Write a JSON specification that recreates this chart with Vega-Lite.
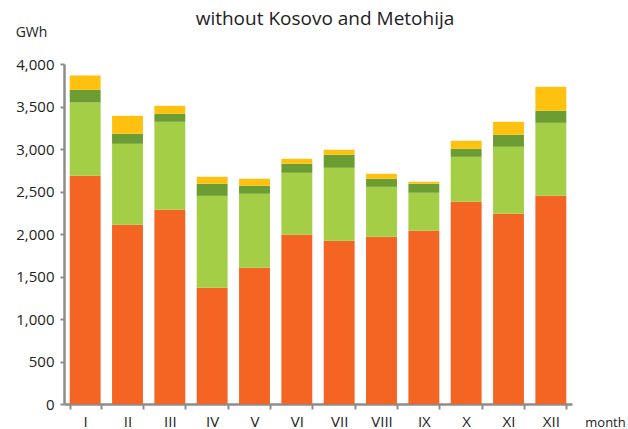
{
  "$schema": "https://vega.github.io/schema/vega-lite/v6.json",
  "autosize": {"type": "none"},
  "width": 508,
  "height": 340,
  "padding": {"left": 64, "top": 64, "right": 56, "bottom": 25},
  "background": "white",
  "title": {"text": "without Kosovo and Metohija", "font": "Open Sans", "fontSize": 19, "fontWeight": "normal", "color": "#222222", "anchor": "middle", "frame": "group", "dx": 7, "dy": 4, "offset": 0},
  "config": {"view": {"stroke": null}, "font": "Open Sans"},
  "data": {"values": [
    {"month": "I", "series": "s1", "k": 1, "value": 2685},
    {"month": "I", "series": "s2", "k": 2, "value": 862},
    {"month": "I", "series": "s3", "k": 3, "value": 149},
    {"month": "I", "series": "s4", "k": 4, "value": 169},
    {"month": "II", "series": "s1", "k": 1, "value": 2108},
    {"month": "II", "series": "s2", "k": 2, "value": 953},
    {"month": "II", "series": "s3", "k": 3, "value": 118},
    {"month": "II", "series": "s4", "k": 4, "value": 212},
    {"month": "III", "series": "s1", "k": 1, "value": 2285},
    {"month": "III", "series": "s2", "k": 2, "value": 1035},
    {"month": "III", "series": "s3", "k": 3, "value": 94},
    {"month": "III", "series": "s4", "k": 4, "value": 94},
    {"month": "IV", "series": "s1", "k": 1, "value": 1367},
    {"month": "IV", "series": "s2", "k": 2, "value": 1082},
    {"month": "IV", "series": "s3", "k": 3, "value": 142},
    {"month": "IV", "series": "s4", "k": 4, "value": 82},
    {"month": "V", "series": "s1", "k": 1, "value": 1602},
    {"month": "V", "series": "s2", "k": 2, "value": 871},
    {"month": "V", "series": "s3", "k": 3, "value": 94},
    {"month": "V", "series": "s4", "k": 4, "value": 83},
    {"month": "VI", "series": "s1", "k": 1, "value": 1991},
    {"month": "VI", "series": "s2", "k": 2, "value": 729},
    {"month": "VI", "series": "s3", "k": 3, "value": 106},
    {"month": "VI", "series": "s4", "k": 4, "value": 59},
    {"month": "VII", "series": "s1", "k": 1, "value": 1920},
    {"month": "VII", "series": "s2", "k": 2, "value": 859},
    {"month": "VII", "series": "s3", "k": 3, "value": 153},
    {"month": "VII", "series": "s4", "k": 4, "value": 59},
    {"month": "VIII", "series": "s1", "k": 1, "value": 1967},
    {"month": "VIII", "series": "s2", "k": 2, "value": 588},
    {"month": "VIII", "series": "s3", "k": 3, "value": 95},
    {"month": "VIII", "series": "s4", "k": 4, "value": 58},
    {"month": "IX", "series": "s1", "k": 1, "value": 2038},
    {"month": "IX", "series": "s2", "k": 2, "value": 447},
    {"month": "IX", "series": "s3", "k": 3, "value": 106},
    {"month": "IX", "series": "s4", "k": 4, "value": 23},
    {"month": "X", "series": "s1", "k": 1, "value": 2379},
    {"month": "X", "series": "s2", "k": 2, "value": 529},
    {"month": "X", "series": "s3", "k": 3, "value": 94},
    {"month": "X", "series": "s4", "k": 4, "value": 95},
    {"month": "XI", "series": "s1", "k": 1, "value": 2238},
    {"month": "XI", "series": "s2", "k": 2, "value": 788},
    {"month": "XI", "series": "s3", "k": 3, "value": 141},
    {"month": "XI", "series": "s4", "k": 4, "value": 153},
    {"month": "XII", "series": "s1", "k": 1, "value": 2449},
    {"month": "XII", "series": "s2", "k": 2, "value": 859},
    {"month": "XII", "series": "s3", "k": 3, "value": 141},
    {"month": "XII", "series": "s4", "k": 4, "value": 283}
  ]},
  "mark": {"type": "bar"},
  "encoding": {
    "x": {
      "field": "month", "type": "nominal",
      "sort": ["I","II","III","IV","V","VI","VII","VIII","IX","X","XI","XII"],
      "scale": {"paddingInner": 0.27, "paddingOuter": 0.135},
      "axis": {
        "title": "month", "titleFont": "Open Sans", "titleFontSize": 13, "titleFontWeight": "normal", "titleColor": "#222222",
        "titleX": 541, "titleY": 22, "titleAlign": "center", "titleBaseline": "alphabetic",
        "labelAngle": 0, "labelFont": "Open Sans", "labelFontSize": 15, "labelColor": "#222222", "labelPadding": 5,
        "domainColor": "#8c8c8c", "domainWidth": 2.5,
        "tickColor": "#8c8c8c", "tickWidth": 2, "tickSize": 5, "tickBand": "extent"
      }
    },
    "y": {
      "field": "value", "type": "quantitative", "stack": "zero",
      "scale": {"domain": [0, 4000], "nice": false},
      "axis": {
        "title": "GWh", "titleAngle": 0, "titleFont": "Open Sans", "titleFontSize": 14, "titleFontWeight": "normal", "titleColor": "#222222",
        "titleX": -33, "titleY": -28, "titleAlign": "center", "titleBaseline": "alphabetic",
        "values": [0, 500, 1000, 1500, 2000, 2500, 3000, 3500, 4000],
        "format": ",.0f", "labelFont": "Open Sans", "labelFontSize": 15, "labelColor": "#222222", "labelPadding": 6,
        "grid": false, "domainColor": "#8c8c8c", "domainWidth": 2.5,
        "tickColor": "#8c8c8c", "tickWidth": 2, "tickSize": 4
      }
    },
    "color": {
      "field": "series", "type": "nominal", "legend": null,
      "scale": {"domain": ["s1", "s2", "s3", "s4"], "range": ["#f46524", "#a3ce45", "#6c9d32", "#ffc110"]}
    },
    "order": {"field": "k", "type": "quantitative", "sort": "ascending"}
  }
}
